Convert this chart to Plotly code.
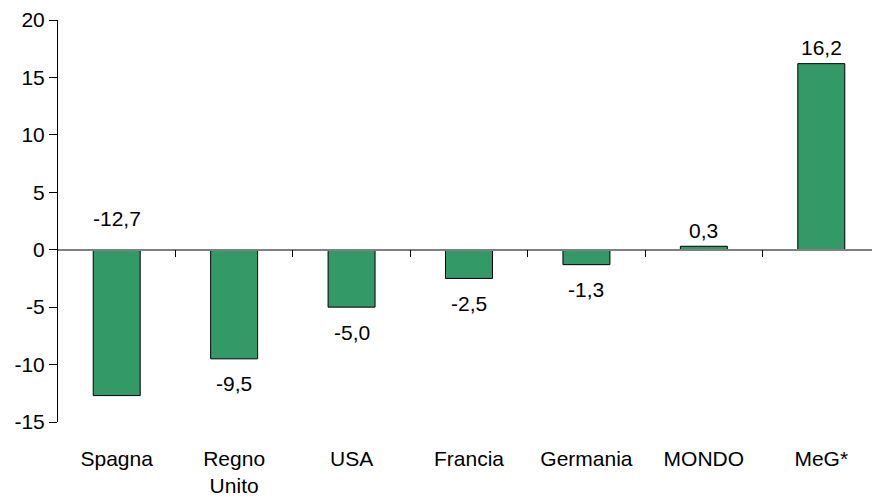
import plotly.graph_objects as go

categories = ["Spagna", "Regno<br>Unito", "USA", "Francia", "Germania", "MONDO", "MeG*"]
values = [-12.7, -9.5, -5.0, -2.5, -1.3, 0.3, 16.2]
y_ticks = [-15, -10, -5, 0, 5, 10, 15, 20]
y_ticktext = [str(t) for t in y_ticks]

FONT = "Liberation Sans Narrow, Arial Narrow, Liberation Sans, Arial, sans-serif"
Y_MIN, Y_MAX = -15, 20
PLOT_H = 402  # approximate plot height in px
px_per_unit = PLOT_H / (Y_MAX - Y_MIN)

fig = go.Figure()
fig.add_trace(go.Bar(
    x=list(range(len(categories))),
    y=values,
    width=0.4,
    marker=dict(color="#339966", line=dict(color="#000000", width=1)),
    showlegend=False,
    hoverinfo="skip",
))

def fmt(v):
    return f"{v:.1f}".replace(".", ",")

for i, v in enumerate(values):
    if v >= 0:
        fig.add_annotation(x=i, y=v, text=fmt(v), showarrow=False, yanchor="middle", yshift=16)
    elif (v - Y_MIN) * px_per_unit < 35:
        fig.add_annotation(x=i, y=0, text=fmt(v), showarrow=False, yanchor="middle", yshift=31)
    else:
        fig.add_annotation(x=i, y=v, text=fmt(v), showarrow=False, yanchor="middle", yshift=-25)

n = len(categories)
# page body has an 8px default margin; size/margins compensate for it
fig.update_layout(
    width=872, height=490,
    margin=dict(l=50, r=0, t=12, b=76, autoexpand=False),
    paper_bgcolor="white", plot_bgcolor="white",
    font=dict(family=FONT, size=21, color="#000000"),
    xaxis=dict(
        range=[-0.5, n - 0.5],
        tickvals=list(range(n)), ticktext=categories,
        showline=False, showgrid=False, zeroline=False,
        ticks="", ticklabelstandoff=22, automargin=False,
        tickfont=dict(family=FONT, size=21),
    ),
    xaxis2=dict(
        overlaying="x", anchor="free",
        position=(0 - Y_MIN) / (Y_MAX - Y_MIN),
        range=[-0.5, n - 0.5],
        tickvals=[i + 0.5 for i in range(n - 1)],
        showticklabels=False, showgrid=False, zeroline=False,
        showline=True, linecolor="#808080", linewidth=1.5,
        ticks="outside", ticklen=7, tickcolor="#000000", tickwidth=1,
        automargin=False,
    ),
    yaxis=dict(
        range=[Y_MIN, Y_MAX], tickvals=y_ticks, ticktext=y_ticktext,
        showgrid=False, zeroline=False,
        showline=True, linecolor="#000000", linewidth=1,
        ticks="outside", ticklen=8, tickcolor="#000000",
        tickfont=dict(family=FONT, size=21), automargin=False,
    ),
)
fig.add_trace(go.Scatter(x=[], y=[], xaxis="x2", showlegend=False))

fig.write_html("out.html")
